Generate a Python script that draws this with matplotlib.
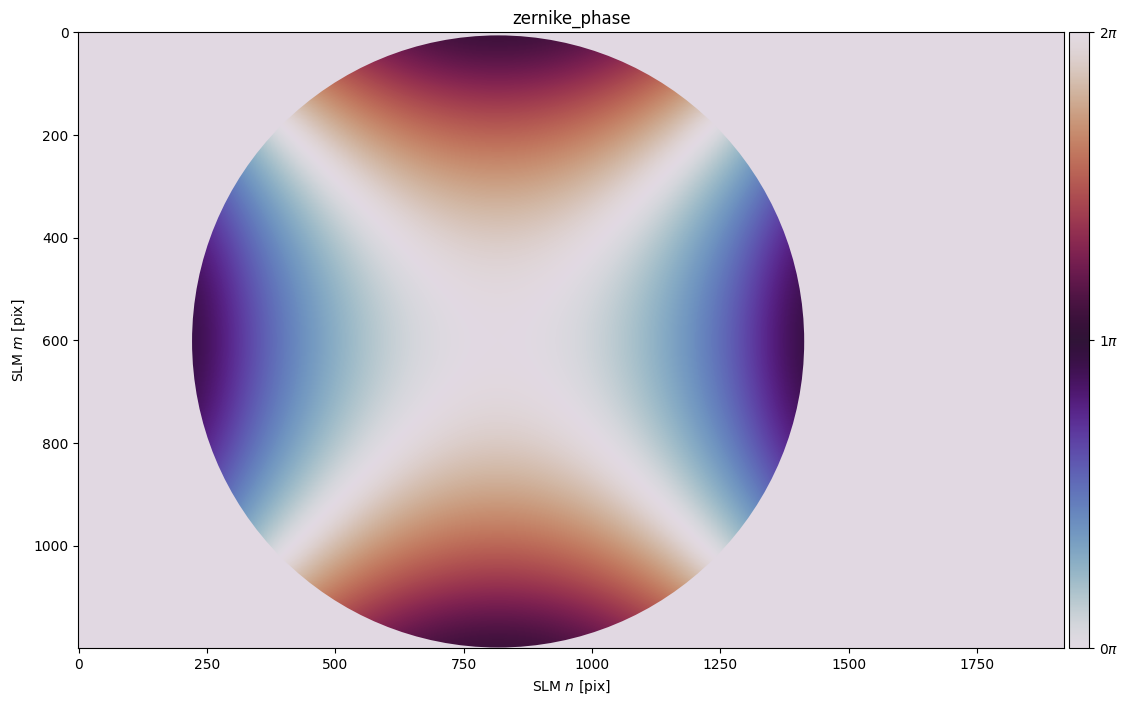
import matplotlib
matplotlib.use("Agg")
import matplotlib.pyplot as plt
import numpy as np
from matplotlib.cm import ScalarMappable
from matplotlib.colors import ListedColormap, Normalize
from matplotlib.patches import Circle

# SLM size
slm_n = 1920
slm_m = 1200

# disc position
disc_n = 817
disc_m = 602
disc_r = 596

# phase in units of pi, before wrapping, read on a coarse grid over the disc
# (rows top to bottom, columns left to right, nodes 0.2 radius apart)
phase_grid = [
    [0.00, -0.36, -0.64, -0.84, -0.96, -1.00, -0.96, -0.84, -0.64, -0.36, 0.00],
    [0.36, 0.00, -0.28, -0.48, -0.60, -0.64, -0.60, -0.48, -0.28, 0.00, 0.36],
    [0.64, 0.28, 0.00, -0.20, -0.32, -0.36, -0.32, -0.20, 0.00, 0.28, 0.64],
    [0.84, 0.48, 0.20, 0.00, -0.12, -0.16, -0.12, 0.00, 0.20, 0.48, 0.84],
    [0.96, 0.60, 0.32, 0.12, 0.00, -0.04, 0.00, 0.12, 0.32, 0.60, 0.96],
    [1.00, 0.64, 0.36, 0.16, 0.04, 0.00, 0.04, 0.16, 0.36, 0.64, 1.00],
    [0.96, 0.60, 0.32, 0.12, 0.00, -0.04, 0.00, 0.12, 0.32, 0.60, 0.96],
    [0.84, 0.48, 0.20, 0.00, -0.12, -0.16, -0.12, 0.00, 0.20, 0.48, 0.84],
    [0.64, 0.28, 0.00, -0.20, -0.32, -0.36, -0.32, -0.20, 0.00, 0.28, 0.64],
    [0.36, 0.00, -0.28, -0.48, -0.60, -0.64, -0.60, -0.48, -0.28, 0.00, 0.36],
    [0.00, -0.36, -0.64, -0.84, -0.96, -1.00, -0.96, -0.84, -0.64, -0.36, 0.00],
]
outside_phase = [[0.0]]

n_ticks = [0, 250, 500, 750, 1000, 1250, 1500, 1750]
m_ticks = [0, 200, 400, 600, 800, 1000]
cbar_ticks = [0, 1, 2]
cbar_labels = [r"$0\pi$", r"$1\pi$", r"$2\pi$"]

W, H = 1127, 705
fig = plt.figure(figsize=(W / 100, H / 100), dpi=100)
ax = fig.add_axes([78.3 / W, 1 - 648.3 / H, 986 / W, 616.25 / H])
cax = fig.add_axes([1069.3 / W, 1 - 648.3 / H, 20 / W, 616.25 / H])

# twilight rolled by half a turn, so -1..1 wraps the same way as 0..2pi
twilight = matplotlib.colormaps["twilight"]
colores = np.array(twilight.colors)
rolled = ListedColormap(np.roll(colores, len(colores) // 2, axis=0))

limits = (-0.5, slm_n - 0.5, slm_m - 0.5, -0.5)
ax.imshow(outside_phase, cmap=rolled, vmin=-1, vmax=1, extent=limits, aspect="equal")

half = 1.1 * disc_r
im = ax.imshow(
    phase_grid,
    cmap=rolled,
    vmin=-1,
    vmax=1,
    extent=(disc_n - half, disc_n + half, disc_m + half, disc_m - half),
    interpolation="bicubic",
    interpolation_stage="data",
    aspect="equal",
)
im.set_clip_path(Circle((disc_n, disc_m), disc_r, transform=ax.transData))

ax.set_xlim(limits[0], limits[1])
ax.set_ylim(limits[2], limits[3])
ax.set_xticks(n_ticks)
ax.set_yticks(m_ticks)
ax.set_xlabel(r"SLM $n$ [pix]")
ax.set_ylabel(r"SLM $m$ [pix]")
ax.set_title("zernike_phase")

cbar = fig.colorbar(ScalarMappable(Normalize(0, 2), cmap=twilight), cax=cax)
cbar.set_ticks(cbar_ticks)
cbar.set_ticklabels(cbar_labels)

fig.savefig("out.png", dpi=100)
